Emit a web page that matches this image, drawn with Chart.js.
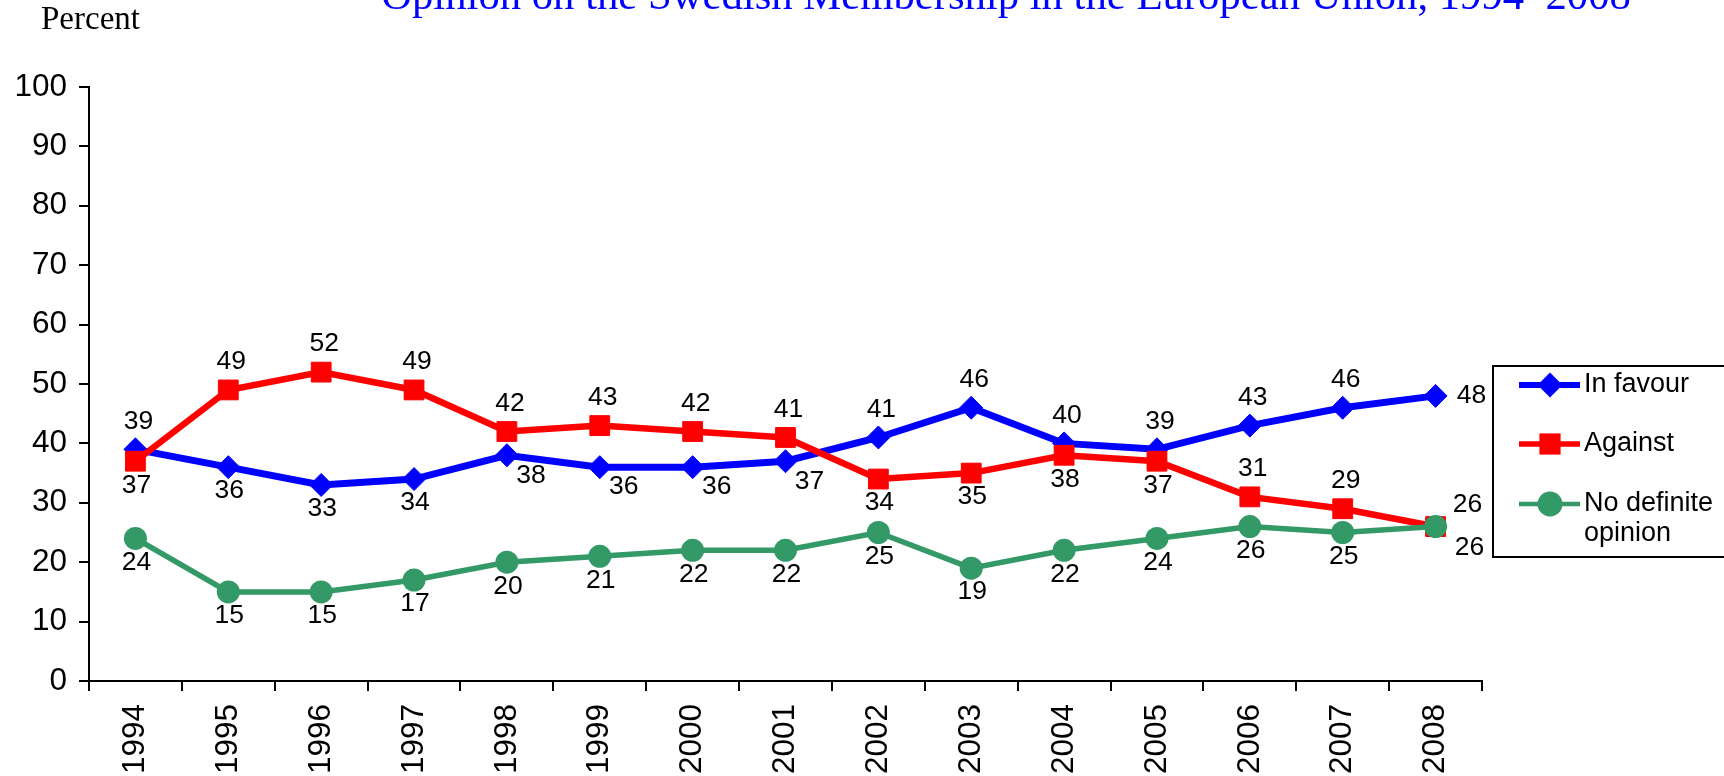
<!DOCTYPE html>
<html>
<head>
<meta charset="utf-8">
<title>Opinion on the Swedish Membership in the European Union, 1994-2008</title>
<script src="https://cdn.jsdelivr.net/npm/chart.js@4.4.1/dist/chart.umd.min.js"></script>
<style>
  html, body { margin: 0; padding: 0; background: #fff; }
  #wrap { width: 1724px; height: 776px; }
</style>
</head>
<body>
<div id="wrap"><canvas id="opinionChart" width="1724" height="776"></canvas></div>
<script>
const years = ['1994', '1995', '1996', '1997', '1998', '1999', '2000', '2001',
               '2002', '2003', '2004', '2005', '2006', '2007', '2008'];
const inFavour  = [39, 36, 33, 34, 38, 36, 36, 37, 41, 46, 40, 39, 43, 46, 48];
const against   = [37, 49, 52, 49, 42, 43, 42, 41, 34, 35, 38, 37, 31, 29, 26];
const noOpinion = [24, 15, 15, 17, 20, 21, 22, 22, 25, 19, 22, 24, 26, 25, 26];
const seriesNames = ['In favour', 'Against', 'No definite opinion'];

const titleText = 'Opinion on the Swedish Membership in the European Union, 1994\u20132008';
const yAxisName = 'Percent';

// where the value label of each point sits
const favourLabelPos  = ['a', 'b', 'b', 'b', 'br', 'br', 'br', 'br', 'a', 'a', 'a', 'a', 'a', 'a', 'r'];
const againstLabelPos = ['b', 'a', 'a', 'a', 'a', 'a', 'a', 'a', 'b', 'b', 'b', 'b', 'a', 'a', 'ra'];
const noOpLabelPos    = ['b', 'b', 'b', 'b', 'b', 'b', 'b', 'b', 'b', 'b', 'b', 'b', 'b', 'b', 'rb'];

const labelShift = {
  a:  [3, -28],
  b:  [1, 24],
  br: [24, 20],
  r:  [36, 0],
  ra: [32, -22],
  rb: [34, 21]
};

const SANS = '"Liberation Sans", Arial, sans-serif';
const SERIF = '"Liberation Serif", "Times New Roman", serif';

function drawMarker(ctx, style, r, x, y) {
  ctx.beginPath();
  if (style === 'rectRot') {
    ctx.moveTo(x - r, y);
    ctx.lineTo(x, y - r);
    ctx.lineTo(x + r, y);
    ctx.lineTo(x, y + r);
    ctx.closePath();
  } else if (style === 'rect') {
    const s = r * Math.SQRT1_2;
    ctx.rect(x - s, y - s, 2 * s, 2 * s);
  } else {
    ctx.arc(x, y, r, 0, Math.PI * 2);
  }
  ctx.fill();
}

const extras = {
  id: 'extras',
  afterDatasetsDraw(chart) {
    const ctx = chart.ctx;
    ctx.save();

    // value labels
    ctx.font = '26.5px ' + SANS;
    ctx.fillStyle = '#000';
    ctx.textAlign = 'center';
    ctx.textBaseline = 'middle';
    chart.data.datasets.forEach((ds, i) => {
      const meta = chart.getDatasetMeta(i);
      meta.data.forEach((pt, j) => {
        const sh = labelShift[ds.labelPos[j]];
        ctx.fillText(String(ds.data[j]), pt.x + sh[0], pt.y + sh[1]);
      });
    });

    // title and axis name
    ctx.fillStyle = '#0000ff';
    ctx.font = '42.7px ' + SERIF;
    ctx.textBaseline = 'alphabetic';
    ctx.textAlign = 'center';
    ctx.fillText(titleText, 1006, 9);

    ctx.fillStyle = '#000';
    ctx.font = '33px ' + SERIF;
    ctx.textAlign = 'left';
    ctx.fillText(yAxisName, 41, 29);

    // legend
    const area = chart.chartArea;
    const boxLeft = area.right + 11;
    const boxTop = 366, boxBottom = 557;
    ctx.strokeStyle = '#000';
    ctx.lineWidth = 2;
    ctx.strokeRect(boxLeft, boxTop, 1724 - boxLeft + 10, boxBottom - boxTop);

    ctx.font = '27px ' + SANS;
    ctx.textBaseline = 'middle';
    const rows = [385, 444, 504];
    chart.data.datasets.forEach((ds, i) => {
      const y = rows[i];
      ctx.strokeStyle = ds.borderColor;
      ctx.lineWidth = ds.borderWidth - 1;
      ctx.beginPath();
      ctx.moveTo(boxLeft + 26, y);
      ctx.lineTo(boxLeft + 87, y);
      ctx.stroke();
      ctx.fillStyle = ds.pointBackgroundColor;
      drawMarker(ctx, ds.pointStyle, ds.pointRadius + 1, boxLeft + 57, y);

      // wrap long names
      ctx.fillStyle = '#000';
      const maxW = 1724 - (boxLeft + 91) - 4;
      const words = ds.label.split(' ');
      let line = '', ly = y;
      words.forEach(w => {
        const test = line ? line + ' ' + w : w;
        if (ctx.measureText(test).width > maxW && line) {
          ctx.fillText(line, boxLeft + 91, ly);
          line = w;
          ly += 30;
        } else {
          line = test;
        }
      });
      ctx.fillText(line, boxLeft + 91, ly);
    });

    ctx.restore();
  }
};

const ctx = document.getElementById('opinionChart').getContext('2d');
new Chart(ctx, {
  type: 'line',
  data: {
    labels: years,
    datasets: [{
      label: seriesNames[0],
      data: inFavour,
      labelPos: favourLabelPos,
      borderColor: '#0000ff',
      backgroundColor: '#0000ff',
      pointBackgroundColor: '#0000ff',
      pointBorderColor: '#0000ff',
      borderWidth: 7,
      pointStyle: 'rectRot',
      pointRadius: 11.5,
      pointBorderWidth: 1,
      order: 2
    }, {
      label: seriesNames[1],
      data: against,
      labelPos: againstLabelPos,
      borderColor: '#ff0000',
      backgroundColor: '#ff0000',
      pointBackgroundColor: '#ff0000',
      pointBorderColor: '#ff0000',
      borderWidth: 6.5,
      pointStyle: 'rect',
      pointRadius: 14,
      pointBorderWidth: 1,
      order: 1
    }, {
      label: seriesNames[2],
      data: noOpinion,
      labelPos: noOpLabelPos,
      borderColor: '#339966',
      backgroundColor: '#339966',
      pointBackgroundColor: '#339966',
      pointBorderColor: '#339966',
      borderWidth: 5.5,
      pointStyle: 'circle',
      pointRadius: 11.5,
      pointBorderWidth: 0,
      order: 0
    }]
  },
  options: {
    responsive: false,
    animation: false,
    devicePixelRatio: 1,
    clip: false,
    layout: { padding: { top: 87, right: 242, left: 0, bottom: 0 } },
    elements: { line: { tension: 0 } },
    plugins: {
      legend: { display: false },
      title: { display: false },
      tooltip: { enabled: false }
    },
    scales: {
      x: {
        offset: true,
        grid: { offset: true, drawOnChartArea: false, color: '#000', lineWidth: 2, tickLength: 10 },
        border: { color: '#000', width: 2 },
        ticks: {
          color: '#000',
          font: { family: SANS, size: 31.5 },
          maxRotation: 90,
          minRotation: 90,
          padding: 13,
          autoSkip: false
        },
        afterFit(scale) { scale.height = 95; }
      },
      y: {
        min: 0,
        max: 100,
        grid: { drawOnChartArea: false, color: '#000', lineWidth: 2, tickLength: 10 },
        border: { color: '#000', width: 2 },
        ticks: {
          stepSize: 10,
          color: '#000',
          font: { family: SANS, size: 31.5 },
          padding: 12
        },
        afterFit(scale) { scale.width = 89; }
      }
    }
  },
  plugins: [extras]
});
</script>
</body>
</html>
